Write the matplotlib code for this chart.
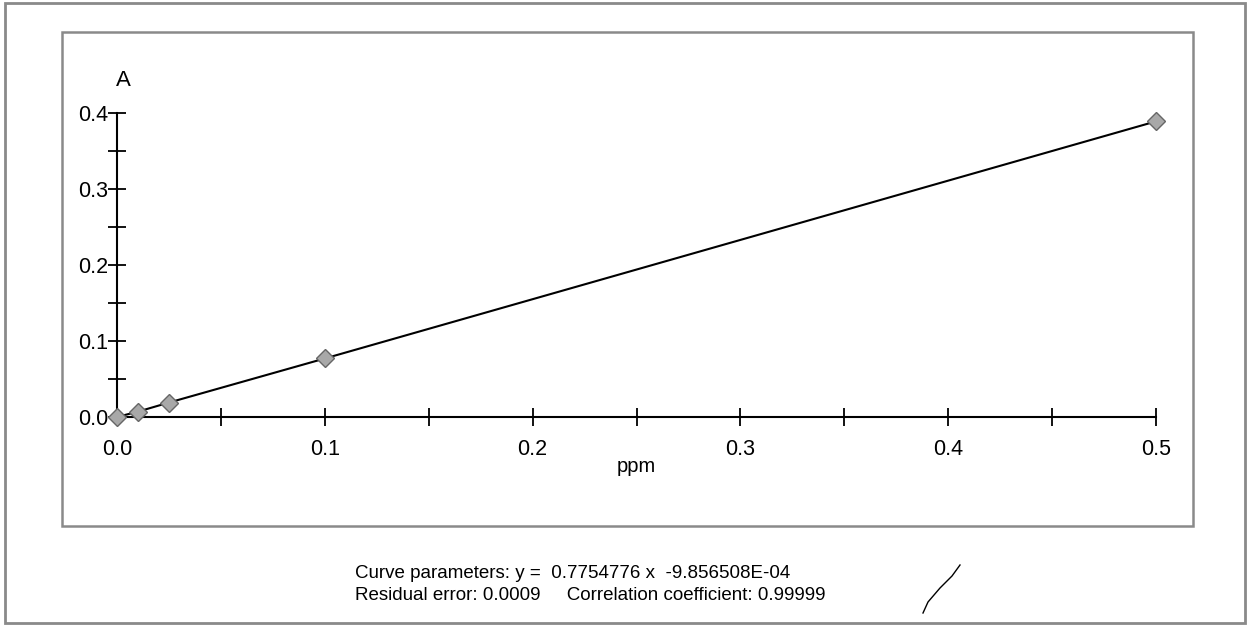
import matplotlib
matplotlib.use('Agg')
import matplotlib.pyplot as plt
from matplotlib.patches import Rectangle
from matplotlib.lines import Line2D

plt.rcParams['font.family'] = ['Liberation Sans', 'DejaVu Sans']

# calibration standards (ppm) and absorbance
conc = [0.0, 0.01, 0.025, 0.1, 0.5]
absorb = [0.0, 0.007, 0.019, 0.077, 0.389]

x_major = [0.0, 0.1, 0.2, 0.3, 0.4, 0.5]
x_minor = [0.05, 0.15, 0.25, 0.35, 0.45]
y_major = [0.0, 0.1, 0.2, 0.3, 0.4]
y_minor = [0.05, 0.15, 0.25, 0.35]

curve_text = 'Curve parameters: y =  0.7754776 x  -9.856508E-04'
stats_text = 'Residual error: 0.0009     Correlation coefficient: 0.99999'

W, H = 1251, 635
fig = plt.figure(figsize=(W / 100, H / 100), dpi=100)

# axes placed so data range matches the scan
ax = fig.add_axes([117 / W, 1 - 417 / H, (1156 - 117) / W, (417 - 113) / H])
ax.plot(conc, absorb, color='black', lw=1.5, zorder=2, clip_on=False)
ax.plot(conc, absorb, linestyle='none', marker='D', markersize=9.5,
        markerfacecolor='#a8a8a8', markeredgecolor='#666666', markeredgewidth=1,
        zorder=3, clip_on=False)

ax.set_xlim(0, 0.5)
ax.set_ylim(0, 0.4)
ax.set_xticks(x_major)
ax.set_xticks(x_minor, minor=True)
ax.set_yticks(y_major)
ax.set_yticks(y_minor, minor=True)
ax.set_xticklabels(['%.1f' % v for v in x_major])
ax.set_yticklabels(['%.1f' % v for v in y_major])
ax.tick_params(which='both', direction='inout', length=13, width=1.3, labelsize=15.5, color='black')
ax.tick_params(axis='x', pad=9)
ax.tick_params(axis='y', pad=0)

for s in ['top', 'right']:
    ax.spines[s].set_visible(False)
for s in ['left', 'bottom']:
    ax.spines[s].set_linewidth(1.5)
ax.patch.set_alpha(0)

fig.text(636 / W, 1 - 466 / H, 'ppm', ha='center', va='center', fontsize=14.5)
fig.text(123 / W, 1 - 80 / H, 'A', ha='center', va='center', fontsize=16)

fig.text(355 / W, 1 - 573 / H, curve_text, ha='left', va='center', fontsize=13.5)
fig.text(355 / W, 1 - 595 / H, stats_text, ha='left', va='center', fontsize=13.5)

# frames
fig.patches.append(Rectangle((5 / W, 1 - 623 / H), 1240 / W, 620 / H, transform=fig.transFigure,
                             fill=False, edgecolor='#8a8a8a', lw=2))
fig.patches.append(Rectangle((62 / W, 1 - 526 / H), (1193 - 62) / W, (526 - 32) / H,
                             transform=fig.transFigure, fill=False, edgecolor='#8a8a8a', lw=1.8))

# pen mark
pen_x = [923, 928, 940, 952, 960]
pen_y = [613, 602, 588, 576, 565]
fig.lines.append(Line2D([v / W for v in pen_x], [1 - v / H for v in pen_y],
                        transform=fig.transFigure, color='black', lw=1))

fig.savefig('out.png', dpi=100)
